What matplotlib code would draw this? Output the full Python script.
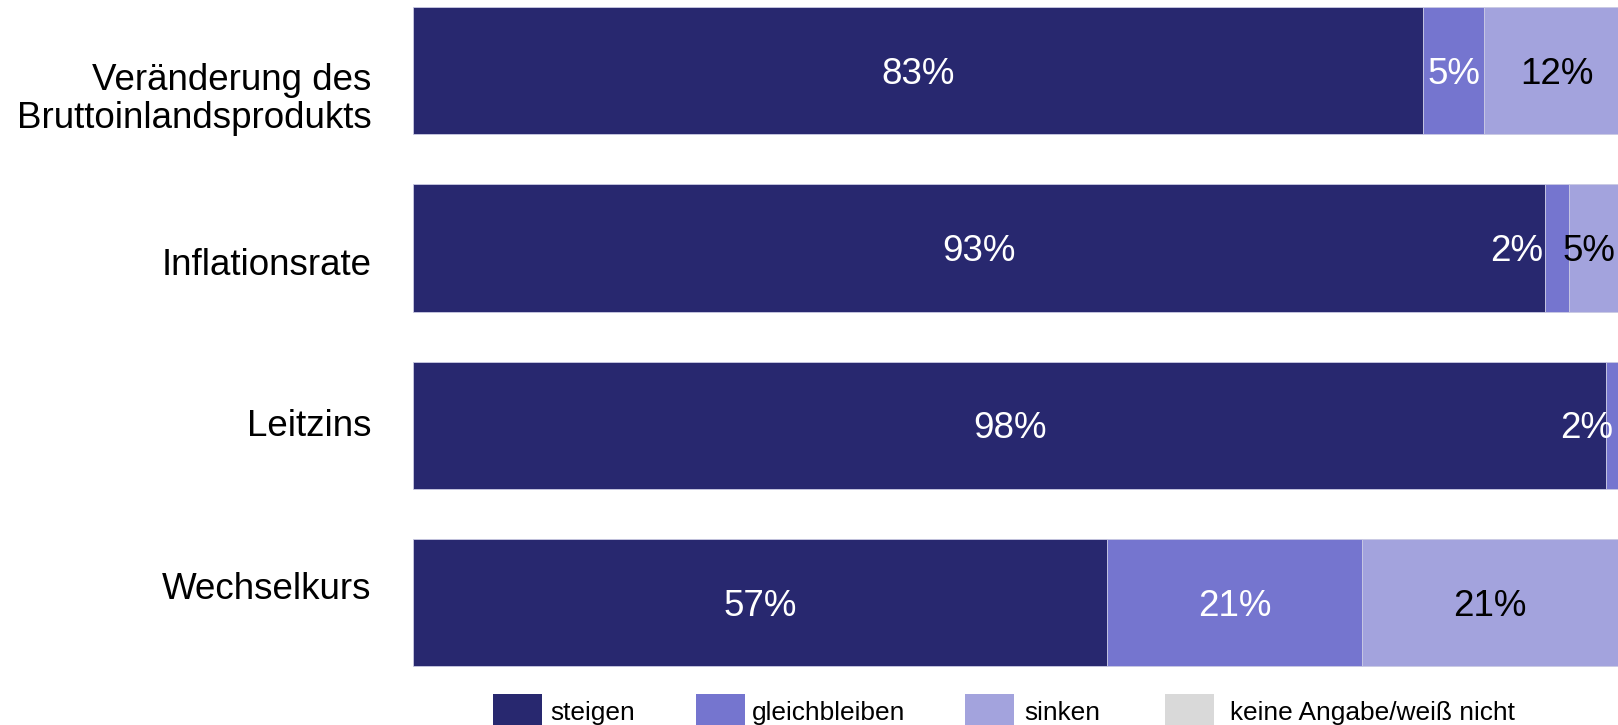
import matplotlib
matplotlib.use("Agg")
import matplotlib.pyplot as plt
from matplotlib.patches import Rectangle
from matplotlib.transforms import blended_transform_factory

plt.rcParams['font.family'] = ['Liberation Sans', 'DejaVu Sans']

# Survey answers (percent of respondents)
categories = ["Veränderung des\nBruttoinlandsprodukts", "Inflationsrate", "Leitzins", "Wechselkurs"]
steigen = [83, 93, 98, 57]
gleichbleiben = [5, 2, 2, 21]
sinken = [12, 5, 0, 21]
keine_angabe = [0, 0, 0, 0]
series_names = ["steigen", "gleichbleiben", "sinken", "keine Angabe/weiß nicht"]

colors = ["#28286f", "#7575cf", "#a3a3dd", "#d9d9d9"]
label_colors = ["white", "white", "black", "black"]

W, H = 1618, 725
fig = plt.figure(figsize=(W / 100, H / 100), dpi=100)
left_px = 413.3
ax = fig.add_axes([left_px / W, 0, 1 - left_px / W, 1])
ax.set_xlim(0, 99)
ax.set_ylim(3.692, -0.3995)
ax.axis("off")

bar_h = 0.717
series = [steigen, gleichbleiben, sinken, keine_angabe]
# small horizontal shifts for labels of narrow segments near the right edge
nudge = {(1, 1): -3.3, (1, 2): -0.9, (2, 1): -2.55}

ypos = list(range(len(categories)))
base = [0] * len(categories)
for s, vals in enumerate(series):
    ax.barh(ypos, vals, left=base, height=bar_h, color=colors[s],
            edgecolor="#c9c9e3", linewidth=0.6)
    for i, v in enumerate(vals):
        if v > 0:
            cx = base[i] + v / 2 + nudge.get((i, s), 0)
            ax.text(cx, i + 0.021, f"{v}%", ha="center", va="center",
                    fontsize=26.5, color=label_colors[s])
    base = [b + v for b, v in zip(base, vals)]

# category labels to the left of the bars
label_offsets = [0.163, 0.101, 0.010, -0.070]
tr = blended_transform_factory(ax.transAxes, ax.transData)
for i, name in enumerate(categories):
    ax.text(-0.0345, i + label_offsets[i], name, transform=tr, ha="right",
            va="center", fontsize=26.5, color="black", linespacing=1.13)

# legend row at the bottom
box_x = [492.7, 696, 965, 1165]
text_x = [550, 752, 1024, 1230]
box_w, box_h, box_top = 49, 34, 694
for k in range(4):
    fig.patches.append(Rectangle((box_x[k] / W, (H - box_top - box_h) / H),
                                 box_w / W, box_h / H, transform=fig.transFigure,
                                 facecolor=colors[k], edgecolor="none"))
    fig.text(text_x[k] / W, (H - 720) / H, series_names[k], ha="left",
             va="baseline", fontsize=18.9, color="black")

fig.savefig("out.png", dpi=100)
